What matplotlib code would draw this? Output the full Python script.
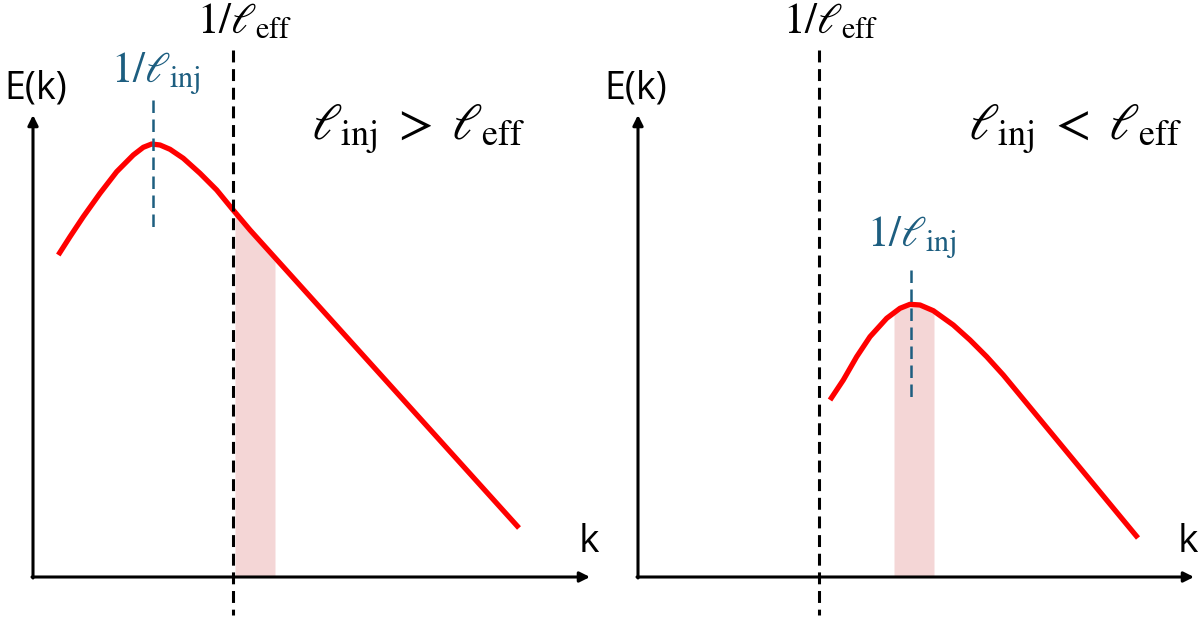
import numpy as np
import matplotlib
matplotlib.use("Agg")
import matplotlib.pyplot as plt

plt.rcParams['mathtext.fontset'] = 'stix'

# ---- schematic data (panel-local units: k to the right, E upward, origin at axes corner) ----
left_k = [25.3, 37, 50.3, 67, 83.7, 100.3, 110.3, 118.7, 127, 137, 150.3, 167, 183.7, 198.7, 217, 486]
left_E = [322, 340.3, 360.3, 383.7, 405.3, 422, 429.7, 433, 432, 427.7, 418.7, 403.7, 387, 368.7, 347, 49]

right_k = [192, 205.3, 218.7, 232, 248.7, 262, 272, 282, 295.3, 315.3, 332, 348.7, 365.3, 500]
right_E = [177, 197, 220.3, 240.3, 258.7, 268.7, 272.7, 272, 266.3, 252, 237, 220.3, 202, 39]

left_band_k = [202, 242]
left_band_E = [365, 320]
right_band_k = [256, 262, 272, 282, 296]
right_band_E = [264, 268.7, 272.7, 272, 266]

left_eff_k = 200
left_inj_k = 120
right_eff_k = 181
right_inj_k = 273

RED = '#ff0000'
PINK = '#f4d6d6'
BLUE = '#1d5e80'

fig = plt.figure(figsize=(12, 6.19), dpi=100)
axL = fig.add_axes([0, 0, 0.5, 1])
axR = fig.add_axes([0.5, 0, 0.5, 1])
axL.set_xlim(-33, 567)
axR.set_xlim(-38, 562)
for ax in (axL, axR):
    ax.set_ylim(-42, 577)
    ax.axis('off')


def axes_arrows(ax, xmax, ymax):
    kw = dict(arrowstyle='-|>,head_length=0.6,head_width=0.3', lw=2.2,
              color='black', shrinkA=0, shrinkB=0, mutation_scale=10)
    ax.annotate('', xy=(0, ymax), xytext=(0, -1), arrowprops=kw)
    ax.annotate('', xy=(xmax, 0), xytext=(-1, 0), arrowprops=kw)


def panel(ax, ck, cE, bk, bE, eff_k, inj_k, inj_range, inj_label_pos,
          rel_label, rel_pos, xmax, klabel_x):
    ax.fill_between(bk, 0, bE, color=PINK, lw=0, zorder=1)
    axes_arrows(ax, xmax, 462)
    ax.plot([eff_k, eff_k], [527, -38], color='black', lw=2.2,
            linestyle=(0, (3.9, 2.2)), zorder=3)
    ax.plot([inj_k, inj_k], inj_range, color=BLUE, lw=1.8,
            linestyle=(0, (5.0, 2.6)), zorder=4)
    ax.plot(ck, cE, color=RED, lw=3.8, solid_capstyle='butt',
            solid_joinstyle='round', zorder=2)
    ax.text(eff_k + 12, 544, r'$1/\ell_{\mathrm{eff}}$', fontsize=31,
            ha='center', va='baseline', color='black')
    ax.text(inj_label_pos[0], inj_label_pos[1], r'$1/\ell_{\mathrm{inj}}$',
            fontsize=31, ha='center', va='baseline', color=BLUE)
    ax.text(rel_pos[0], rel_pos[1], rel_label, fontsize=37, ha='center',
            va='baseline', color='black')
    ax.text(ax.get_xlim()[0] + 4, 479, 'E(k)', fontsize=27,
            family='Open Sans', ha='left', va='baseline')
    ax.text(klabel_x, 25, 'k', fontsize=28, family='Open Sans',
            ha='left', va='baseline')


panel(axL, left_k, left_E, left_band_k, left_band_E, left_eff_k, left_inj_k,
      [477, 349], (123, 494), r'$\ell_{\mathrm{inj}}\;>\;\ell_{\mathrm{eff}}$',
      (385, 437), 557, 546)
panel(axR, right_k, right_E, right_band_k, right_band_E, right_eff_k,
      right_inj_k, [307, 180], (274, 330),
      r'$\ell_{\mathrm{inj}}\;<\;\ell_{\mathrm{eff}}$', (437, 437), 556, 540)

fig.savefig('out.png', dpi=100)
